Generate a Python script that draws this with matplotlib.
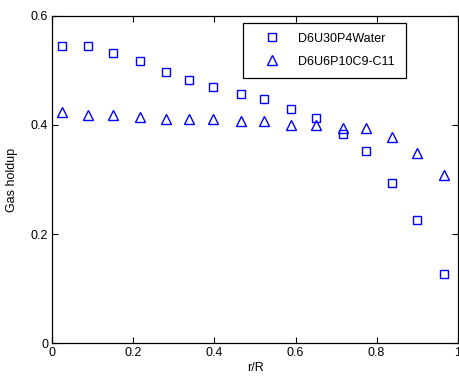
import matplotlib
matplotlib.use("Agg")
import matplotlib.pyplot as plt

plt.rcParams.update({
    "font.family": ["Liberation Sans", "DejaVu Sans"],
    "font.size": 9,
    "xtick.direction": "in", "ytick.direction": "in",
    "xtick.top": True, "ytick.right": True,
    "axes.linewidth": 0.9,
})

# radial positions (r/R)
r = [0.024, 0.087, 0.149, 0.216, 0.280, 0.338, 0.397, 0.465,
     0.522, 0.588, 0.650, 0.716, 0.773, 0.838, 0.900, 0.967]
# gas holdup per series
water = [0.545, 0.545, 0.532, 0.517, 0.496, 0.482, 0.469, 0.457,
         0.447, 0.429, 0.412, 0.383, 0.353, 0.294, 0.226, 0.127]
c9c11 = [0.423, 0.419, 0.419, 0.414, 0.411, 0.411, 0.411, 0.408,
         0.407, 0.400, 0.400, 0.395, 0.394, 0.378, 0.348, 0.308]
labels = ["D6U30P4Water", "D6U6P10C9-C11"]

fig = plt.figure(figsize=(4.6, 3.83), dpi=100)
ax = fig.add_axes([0.1137, 0.1037, 0.8813, 0.8553])

ax.plot(r, water, ls="none", marker="s", ms=6, mfc="none", mec="#0000ff",
        mew=1.0, label=labels[0])
ax.plot(r, c9c11, ls="none", marker="^", ms=7, mfc="none", mec="#0000ff",
        mew=1.0, label=labels[1])

ax.set_xlim(0, 1)
ax.set_ylim(0, 0.6)
ax.set_xticks([0, 0.2, 0.4, 0.6, 0.8, 1])
ax.set_xticklabels(["0", "0.2", "0.4", "0.6", "0.8", "1"])
ax.set_yticks([0, 0.2, 0.4, 0.6])
ax.set_yticklabels(["0", "0.2", "0.4", "0.6"])
ax.tick_params(length=4, width=0.8, pad=3)
ax.set_xlabel("r/R", labelpad=2)
ax.set_ylabel("Gas holdup", labelpad=9)

# matlab-style legend box: wide frame, entries left-aligned
leg = ax.legend(loc="upper left", bbox_to_anchor=(0.471, 0.809, 0.402, 0.17),
                mode="expand", borderaxespad=0,
                fancybox=False, edgecolor="black", framealpha=1,
                handlelength=2.95, handletextpad=0.65, borderpad=0.8,
                labelspacing=0.9, fontsize=9)
leg.get_frame().set_linewidth(0.9)

fig.savefig("out.png", dpi=100, facecolor="white")
